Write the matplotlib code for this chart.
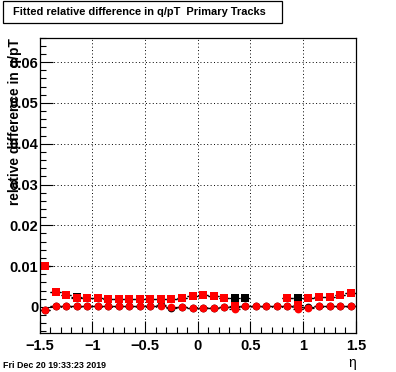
import numpy as np
import matplotlib.pyplot as plt
from matplotlib.patches import Rectangle
from matplotlib.ticker import MultipleLocator

plt.rcParams['font.family'] = ['Liberation Sans', 'DejaVu Sans']

nan = np.nan
eta = np.round(np.arange(-1.45, 1.5, 0.1), 2)

# red series (drawn on top)
red_sq = [0.0100, 0.0036, 0.0028, 0.0023, 0.0023, 0.0021, 0.0020, 0.0020, 0.0020, 0.0020,
          0.0020, 0.0020, 0.0020, 0.0021, 0.0026, 0.0028, 0.0026, 0.0021, 0.0003, nan,
          nan, nan, nan, 0.0021, 0.0005, 0.0022, 0.0024, 0.0024, 0.0028, 0.0033]
red_ci = [-0.0008, 0.0003, 0.0003, 0.0002, 0.0001, 0.0001, 0.0001, 0.0001, 0.0001, 0.0002,
          0.0001, 0.0001, -0.0001, 0.0000, -0.0002, -0.0002, -0.0002, 0.0000, -0.0006, 0.0002,
          0.0003, 0.0003, 0.0002, 0.0001, -0.0005, -0.0002, 0.0001, 0.0002, 0.0002, 0.0001]
# black series (mostly hidden below the red one)
blk_sq = [0.0100, 0.0036, 0.0028, 0.0024, 0.0023, 0.0021, 0.0020, 0.0020, 0.0020, 0.0020,
          0.0020, 0.0020, 0.0020, 0.0021, 0.0026, 0.0028, 0.0026, 0.0021, 0.0021, 0.0021,
          nan, nan, nan, 0.0021, 0.0021, 0.0022, 0.0024, 0.0024, 0.0028, 0.0033]
blk_ci = [-0.0008, 0.0003, 0.0003, 0.0002, 0.0001, 0.0001, 0.0001, 0.0001, 0.0001, 0.0002,
          0.0001, 0.0004, -0.0002, 0.0000, -0.0002, -0.0002, -0.0002, 0.0000, 0.0000, 0.0002,
          0.0003, 0.0003, 0.0002, 0.0001, 0.0000, 0.0000, 0.0001, 0.0003, 0.0003, 0.0001]

fig = plt.figure(figsize=(3.96, 3.72), dpi=100)
ax = fig.add_axes([0.1003, 0.1048, 0.7984, 0.7939])

for ys, mk, col in [(blk_sq, 's', 'black'), (blk_ci, 'o', 'black'),
                    (red_sq, 's', 'red'), (red_ci, 'o', 'red')]:
    ax.errorbar(eta, ys, xerr=0.05, fmt=mk, color=col, ecolor='black',
                elinewidth=0.9, markersize=5.6, markeredgewidth=0, capsize=0)

ax.set_xlim(-1.5, 1.5)
ax.set_ylim(-0.0064, 0.066)
ax.xaxis.set_major_locator(MultipleLocator(0.5))
ax.xaxis.set_minor_locator(MultipleLocator(0.1))
ax.yaxis.set_major_locator(MultipleLocator(0.01))
ax.yaxis.set_minor_locator(MultipleLocator(0.002))
ax.set_yticks([0, 0.01, 0.02, 0.03, 0.04, 0.05, 0.06])
ax.set_yticklabels(['0', '0.01', '0.02', '0.03', '0.04', '0.05', '0.06'])
ax.set_xticks([-1.5, -1, -0.5, 0, 0.5, 1, 1.5])
ax.set_xticklabels(['\u22121.5', '\u22121', '\u22120.5', '0', '0.5', '1', '1.5'])
ax.tick_params(which='both', direction='in', top=False, right=False, width=0.8)
ax.tick_params(which='major', length=9)
ax.tick_params(which='minor', length=4.5)
ax.tick_params(axis='y', pad=1, labelsize=10.5)
ax.tick_params(axis='x', pad=4, labelsize=10.5)
for lab in ax.get_xticklabels() + ax.get_yticklabels():
    lab.set_fontweight('bold')
ax.grid(True, which='major', color='black', linestyle=(0, (1, 2.5)), linewidth=0.7)
for sp in ax.spines.values():
    sp.set_linewidth(0.9)

fig.text(15 / 396, 1 - 38 / 372, 'relative difference in q/pT', rotation=90,
         ha='center', va='top', fontsize=9.9, fontweight='bold')
fig.text(356 / 396, 1 - 363 / 372, '\u03b7', ha='right', va='center', fontsize=10)
fig.text(3 / 396, 1 - 365 / 372, 'Fri Dec 20 19:33:23 2019', ha='left', va='center',
         fontsize=6.4, fontweight='bold')

fig.patches.append(Rectangle((3 / 396, 1 - 22.7 / 372), 279 / 396, 21.7 / 372,
                             transform=fig.transFigure, fill=False, edgecolor='black',
                             linewidth=0.9))
fig.text(12.7 / 396, 1 - 12 / 372, 'Fitted relative difference in q/pT  Primary Tracks',
         ha='left', va='center', fontsize=7.9, fontweight='bold')

fig.savefig('out.png', dpi=100)
